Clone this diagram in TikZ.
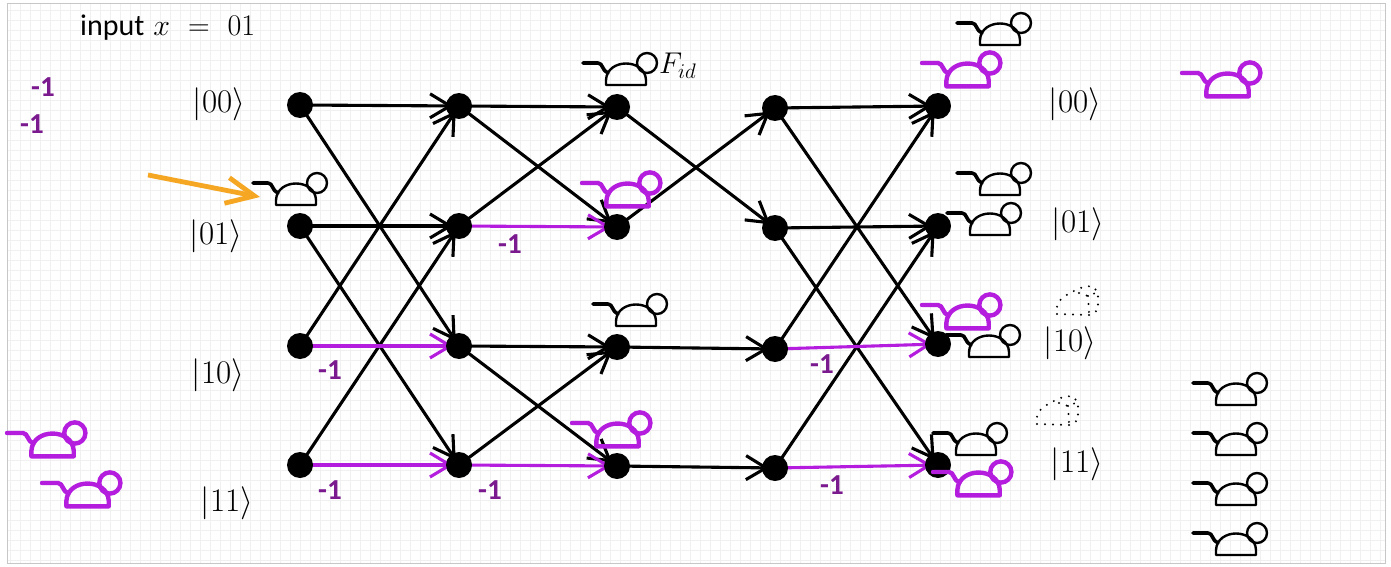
\documentclass[tikz,border=0pt]{standalone}
\usepackage{fix-cm}
\usepackage{fontspec}
\newfontfamily\calib{Carlito}
\usetikzlibrary{arrows.meta}
\definecolor{vio}{HTML}{B41CDE}
\definecolor{vtext}{HTML}{7A1A8E}
\definecolor{orng}{HTML}{F5A623}
\pgfdeclarelayer{paper}
\pgfdeclarelayer{wires}
\pgfsetlayers{paper,wires,main}

% outline of a mouse: tail, dome-shaped body, round head
\newcommand\drawmouse[3]{%
  \draw[#1, line width=#3, line cap=round, line join=round]
    (0,0) -- (15,0) .. controls (20,0) and (19,8) .. (25,10);
  \draw[#1, line width=#2, line join=round]
    (23,22) -- (23,17) .. controls (24,-5) and (62,-5) .. (63,17) -- (63,22) -- cycle;
  \draw[#1, line width=#2] (64,0) circle (10);
}

\tikzset{
  dot/.style={circle, fill=black, minimum size=26pt, inner sep=0pt},
  wire/.style={line width=3.1pt, draw=black,
    -{Straight Barb[length=20pt,width=24pt]}, shorten >=6pt},
  neg/.style={wire, draw=vio},
  ket/.style={font=\fontsize{33}{36}\selectfont, inner sep=0pt},
  minus/.style={font=\fontsize{29}{32}\selectfont\calib\bfseries, text=vtext, inner sep=0pt},
  bmouse/.pic={\drawmouse{black}{2.4pt}{3.6pt}},
  pmouse/.pic={\begin{scope}[scale=1.06]\drawmouse{vio}{4.4pt}{4.4pt}\end{scope}},
  crumb/.style={line width=2.2pt, line cap=round, dash pattern=on 0pt off 8pt},
  cheese/.pic={
    \draw[crumb]
      (0,28) -- (33,29) -- (41,24) -- (41,6) -- (35,0) -- (26,1)
      .. controls (16,5) and (3,11) .. (0,19) -- cycle;
    \draw[crumb] (22,7) -- (31,10) -- (41,6) (31,10) -- (32,28);
  },
}

\begin{document}
\begin{tikzpicture}[x=1pt, y=-1pt]
\useasboundingbox (0,0) rectangle (1391,567);

% graph paper
\begin{pgfonlayer}{paper}
  \fill[white] (0,0) rectangle (1391,567);
  \draw[black!6, line width=0.6pt] (7,4) grid[step=10pt] (1385,563);
  \draw[black!22, line width=1pt] (7,4) rectangle (1385,563);
\end{pgfonlayer}

% the five columns of the circuit
\node[dot] (a1) at (300,105) {};
\node[dot] (a2) at (300,226) {};
\node[dot] (a3) at (300,346) {};
\node[dot] (a4) at (300,465) {};
\node[dot] (b1) at (459,106) {};
\node[dot] (b2) at (459,226) {};
\node[dot] (b3) at (459,346) {};
\node[dot] (b4) at (459,465) {};
\node[dot] (c1) at (617,107) {};
\node[dot] (c2) at (617,227) {};
\node[dot] (c3) at (617,347) {};
\node[dot] (c4) at (617,466) {};
\node[dot] (d1) at (775,108) {};
\node[dot] (d2) at (775,228) {};
\node[dot] (d3) at (775,349) {};
\node[dot] (d4) at (775,468) {};
\node[dot] (e1) at (938,106) {};
\node[dot] (e2) at (938,226) {};
\node[dot] (e3) at (938,344) {};
\node[dot] (e4) at (938,465) {};

\begin{pgfonlayer}{wires}
  % first Hadamard layer
  \draw[wire] (a1.center) -- (b1.center);
  \draw[wire] (a1.center) -- (b3.center);
  \draw[wire] (a2.center) -- (b2.center);
  \draw[wire] (a2.center) -- (b4.center);
  \draw[wire] (a3.center) -- (b1.center);
  \draw[wire] (a4.center) -- (b2.center);
  \draw[neg]  (a3.center) -- (b3.center);
  \draw[neg]  (a4.center) -- (b4.center);
  % second Hadamard layer
  \draw[wire] (b1.center) -- (c1.center);
  \draw[wire] (b1.center) -- (c2.center);
  \draw[wire] (b2.center) -- (c1.center);
  \draw[wire] (b3.center) -- (c3.center);
  \draw[wire] (b3.center) -- (c4.center);
  \draw[wire] (b4.center) -- (c3.center);
  \draw[neg]  (b2.center) -- (c2.center);
  \draw[neg]  (b4.center) -- (c4.center);
  % oracle
  \draw[wire] (c1.center) -- (d2.center);
  \draw[wire] (c2.center) -- (d1.center);
  \draw[wire] (c3.center) -- (d3.center);
  \draw[wire] (c4.center) -- (d4.center);
  % last Hadamard layer
  \draw[wire] (d1.center) -- (e1.center);
  \draw[wire] (d1.center) -- (e3.center);
  \draw[wire] (d2.center) -- (e2.center);
  \draw[wire] (d2.center) -- (e4.center);
  \draw[wire] (d3.center) -- (e1.center);
  \draw[wire] (d4.center) -- (e2.center);
  \draw[neg]  (d3.center) -- (e3.center);
  \draw[neg]  (d4.center) -- (e4.center);
\end{pgfonlayer}

% phase labels
\node[minus] (n1) at (510,244) {-1};
\node[minus] (n2) at (330,370) {-1};
\node[minus] (n3) at (330,490) {-1};
\node[minus] (n4) at (490,490) {-1};
\node[minus] (n5) at (822,364) {-1};
\node[minus] (n6) at (832,485) {-1};
\node[minus] (n7) at (43,87) {-1};
\node[minus] (n8) at (32,124) {-1};

% basis states
\node[ket] (l00) at (219,104) {$|00\rangle$};
\node[ket] (l01) at (216,236) {$|01\rangle$};
\node[ket] (l10) at (218,375) {$|10\rangle$};
\node[ket] (l11) at (227,503) {$|11\rangle$};
\node[ket] (r00) at (1075,104) {$|00\rangle$};
\node[ket] (r01) at (1078,224) {$|01\rangle$};
\node[ket] (r10) at (1070,343) {$|10\rangle$};
\node[ket] (r11) at (1077,464) {$|11\rangle$};

% heading and oracle name
\node[anchor=base west, inner sep=0pt, font=\fontsize{30}{32}\selectfont] (inp) at (80,36)
  {{\calib input} $x$\hspace{0.6em}$=$\hspace{0.6em}$01$};
\node[anchor=base west, inner sep=0pt, font=\fontsize{30}{32}\selectfont] (fid) at (659,74) {$F_{id}$};

% pointer to the input state
\coordinate (o1) at (148,175);
\coordinate (o2) at (260,197);
\draw[orng, line width=4.8pt, -{Straight Barb[length=28pt,width=26pt]}] (o1) -- (o2);

% mice
\pic (m1) at (253,183) {bmouse};
\pic (m2) at (583,63) {bmouse};
\pic (m3) at (957,23) {bmouse};
\pic (m4) at (957,173) {bmouse};
\pic (m5) at (947,213) {bmouse};
\pic (m6) at (593,304) {bmouse};
\pic (m7) at (946,335) {bmouse};
\pic (m8) at (933,433) {bmouse};
\pic (m9) at (1193,383) {bmouse};
\pic (m10) at (1193,433) {bmouse};
\pic (m11) at (1193,483) {bmouse};
\pic (m12) at (1193,533) {bmouse};
\pic (p1) at (1182,73) {pmouse};
\pic (p2) at (922,63) {pmouse};
\pic (p3) at (582,183) {pmouse};
\pic (p4) at (922,305) {pmouse};
\pic (p5) at (572,423) {pmouse};
\pic (p6) at (933,472) {pmouse};
\pic (p7) at (7,433) {pmouse};
\pic (p8) at (42,483) {pmouse};

% crumbs of cheese
\pic (q1) at (1057,286) {cheese};
\pic (q2) at (1037,396) {cheese};
\end{tikzpicture}
\end{document}
